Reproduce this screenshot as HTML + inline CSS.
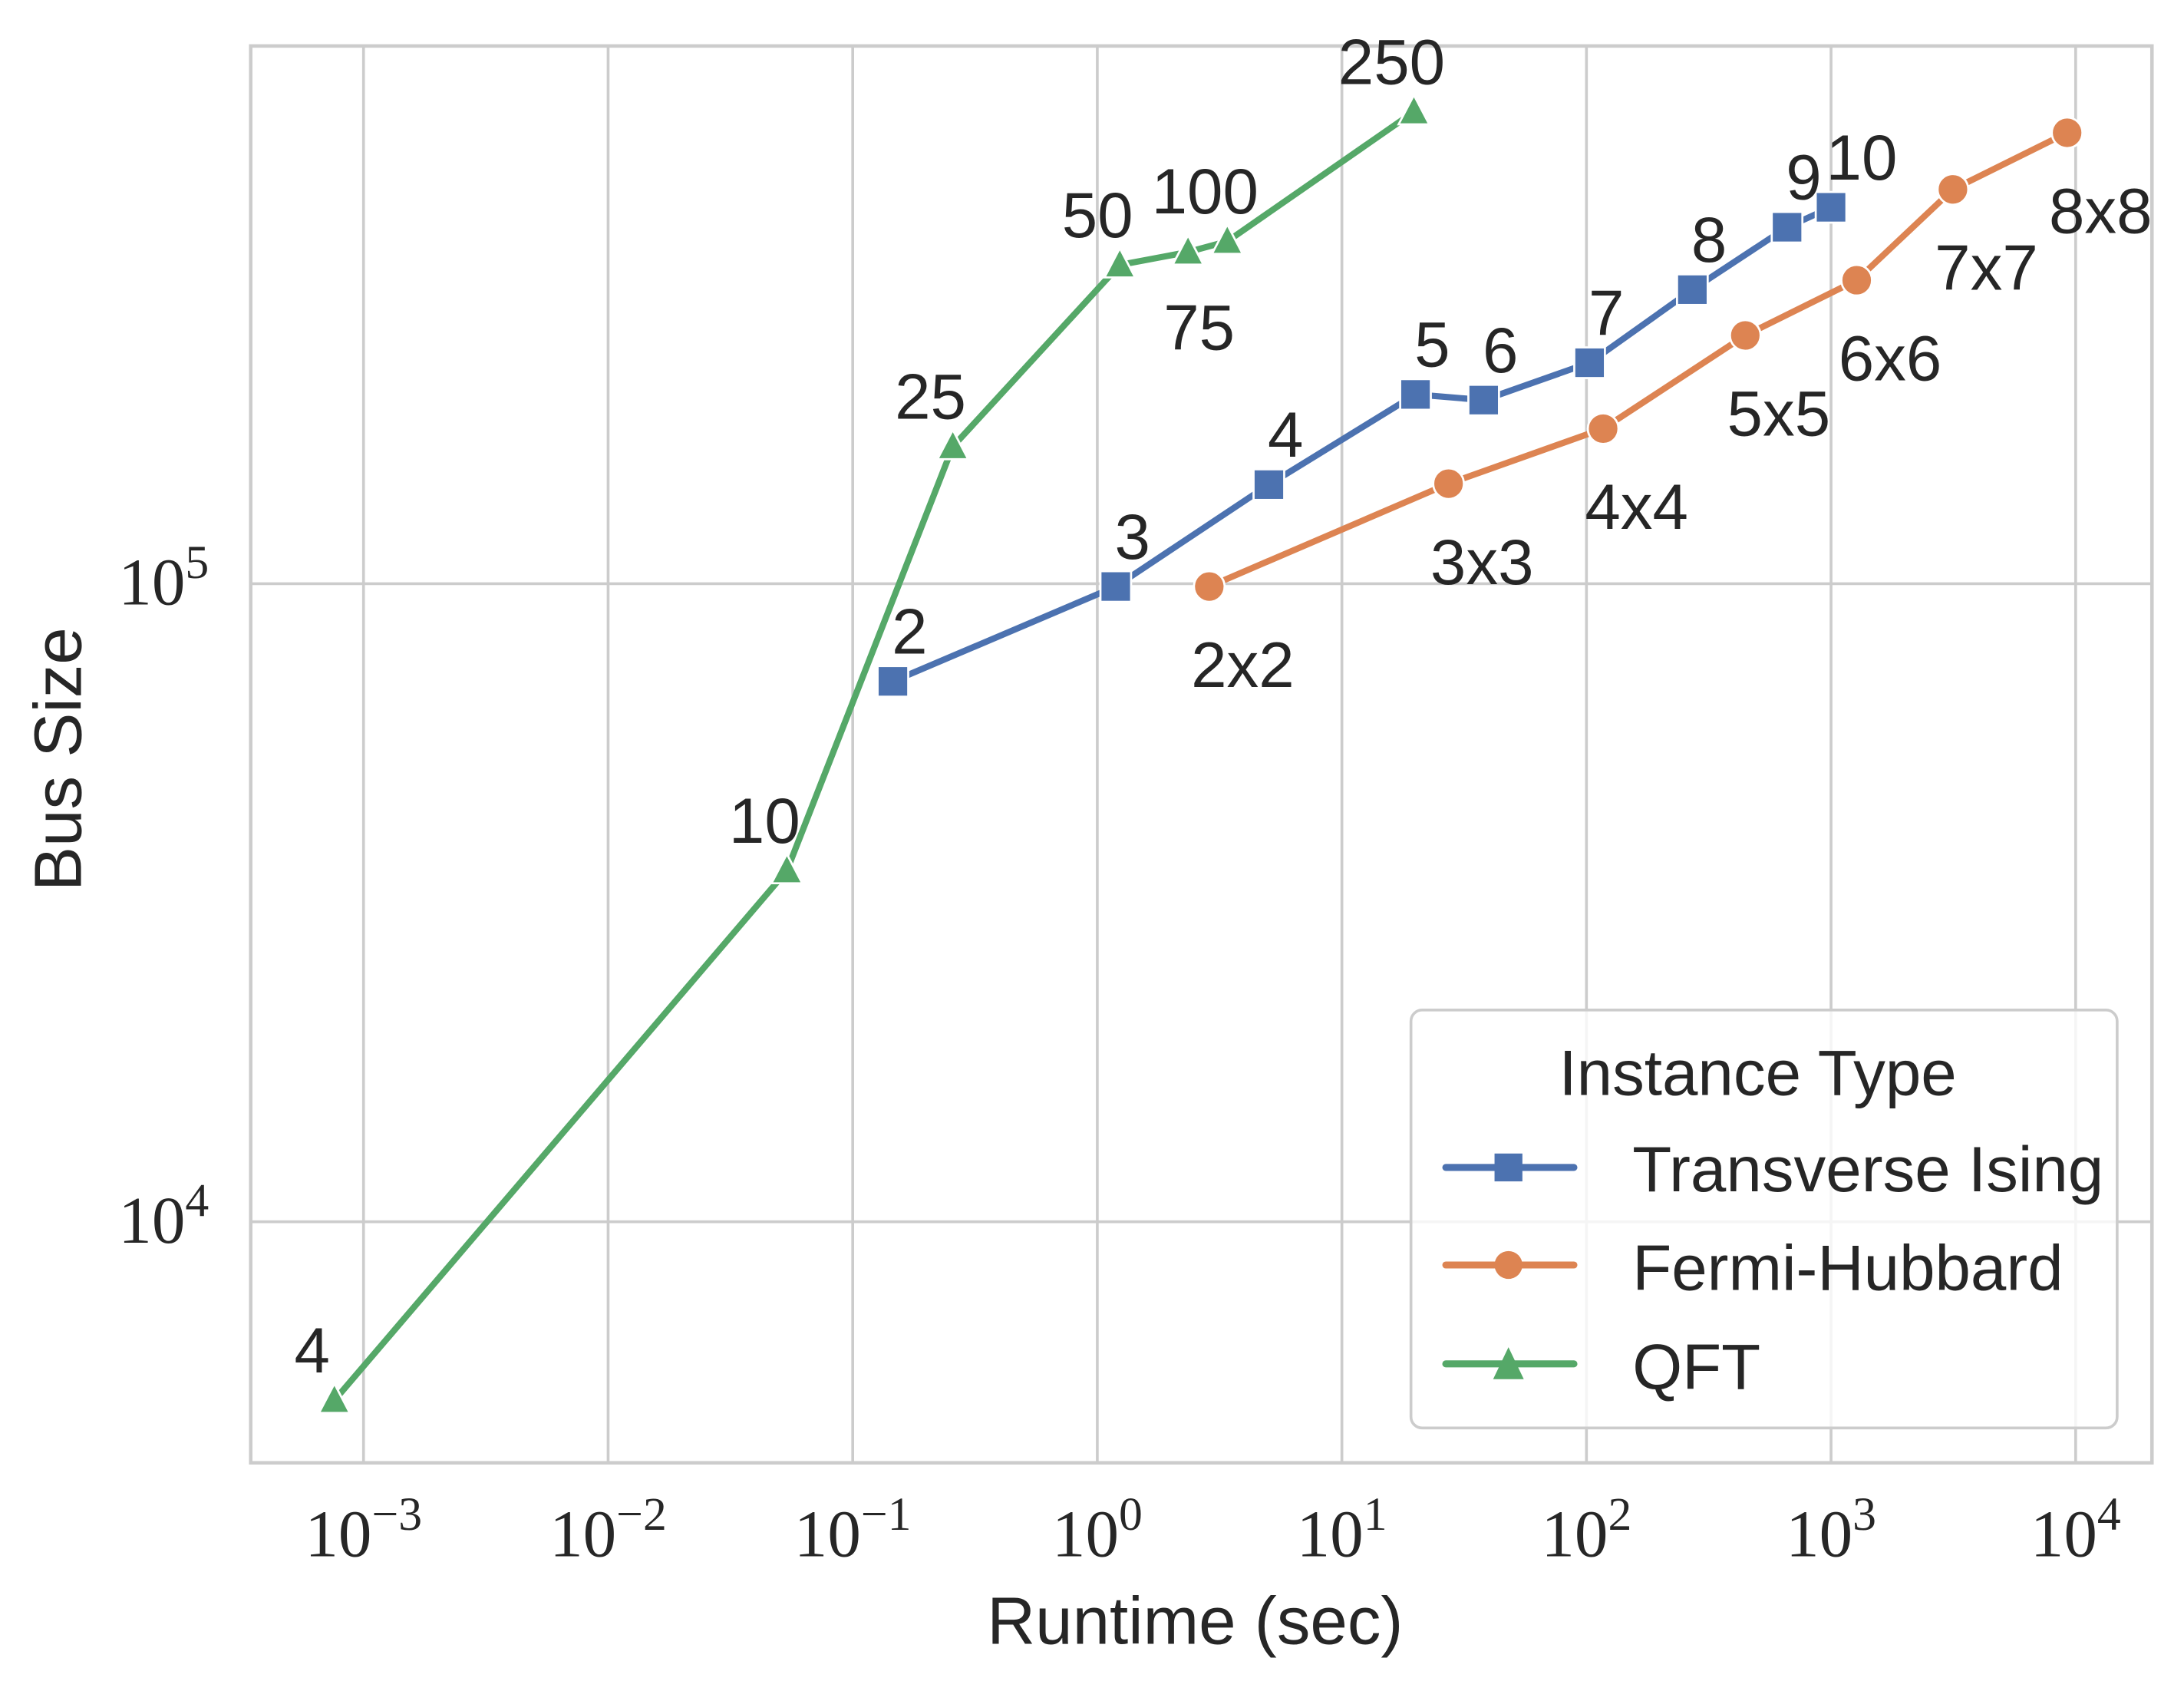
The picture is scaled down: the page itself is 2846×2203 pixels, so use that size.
<!DOCTYPE html>
<html><head><meta charset="utf-8"><style>
html,body{margin:0;padding:0;background:#fff;}
svg{display:block;}
text{font-family:"Liberation Sans Narrow","Liberation Sans",sans-serif;fill:#262626;}
</style></head><body>
<svg id="chart" width="2846" height="2203" viewBox="0 0 1568 1213.8" preserveAspectRatio="none" xmlns="http://www.w3.org/2000/svg">
<g id="grid"></g>
<g id="axes"></g>
<g id="series"></g>
<g id="labels"></g>
<text x="858" y="1180" font-size="48" text-anchor="middle">Runtime (sec)</text>
<text x="0" y="0" font-size="48" text-anchor="middle" transform="translate(58,545) rotate(-90)">Bus Size</text>
<g>
<rect x="1013" y="725" width="507" height="300" rx="8" fill="#fff" fill-opacity="0.8" stroke="#cccccc" stroke-width="2"/>
<text x="1262" y="786" font-size="46" text-anchor="middle">Instance Type</text>
<g>
<line x1="1038" y1="838" x2="1130" y2="838" stroke="#4c72b0" stroke-width="5" stroke-linecap="round"/>
<rect x="1073" y="828" width="20" height="20" fill="#4c72b0"/>
<text x="1172" y="855" font-size="46">Transverse Ising</text></g>
<g>
<line x1="1038" y1="908" x2="1130" y2="908" stroke="#dd8452" stroke-width="5" stroke-linecap="round"/>
<ellipse cx="1083" cy="908" rx="10" ry="10" fill="#dd8452"/>
<text x="1172" y="926" font-size="46">Fermi-Hubbard</text></g>
<g>
<line x1="1038" y1="979" x2="1130" y2="979" stroke="#55a868" stroke-width="5" stroke-linecap="round"/>
<polygon points="1083,967 1094,990 1072,990" fill="#55a868"/>
<text x="1172" y="997" font-size="46">QFT</text></g>
</g>
</svg>
<script>
const isingX=[0.146,1.19,5.03,20,38,103,271,661,1000];
const isingY=[70300,99000,143000,198000,194000,222000,289000,362000,389000];
const isingLabels=["2","3","4","5","6","7","8","9","10"];
const fermiX=[2.87,27.3,117,446,1273,3150,9230];
const fermiY=[99000,143500,175000,245000,299000,415000,509000];
const fermiLabels=["2x2","3x3","4x4","5x5","6x6","7x7","8x8"];
const qftX=[0.00076,0.0538,0.2566,1.236,2.35,3.40,19.7];
const qftY=[5250,35500,164000,316000,331000,344000,549000];
const qftLabels=["4","10","25","50","75","100","250"];
const xTicks=[-3,-2,-1,0,1,2,3,4];
const yTicks=[4,5];

const NS="http://www.w3.org/2000/svg";
const L=180,R=1545,T=33,B=1050;
function sx(v){return 261+(Math.log10(v)+3)*175.6;}
function sy(v){return 419-(Math.log10(v)-5)*458;}
function mk(tag,attrs,parent){const e=document.createElementNS(NS,tag);for(const k in attrs)e.setAttribute(k,attrs[k]);parent.appendChild(e);return e;}
const grid=document.getElementById('grid'),axes=document.getElementById('axes'),ser=document.getElementById('series'),lab=document.getElementById('labels');
function tickText(parent,x,y,anchor,p){
 const t=mk('text',{x:x,y:y,'text-anchor':anchor},parent);
 t.setAttribute('style','font-family:"Liberation Serif",serif;font-size:48px');
 const a=document.createElementNS(NS,'tspan');a.textContent='10';t.appendChild(a);
 const b=document.createElementNS(NS,'tspan');b.setAttribute('dy','-19');b.setAttribute('style','font-size:34px');b.textContent=(p<0?'\u2212'+(-p):String(p));t.appendChild(b);
 return t;
}
xTicks.forEach(p=>{const x=sx(Math.pow(10,p));
 const g=mk('line',{x1:x,x2:x,y1:T,y2:B,stroke:'#cccccc','stroke-width':2},grid);
 
 
 const t=tickText(axes,x,1117,'middle',p);
 
 });
yTicks.forEach(p=>{const y=sy(Math.pow(10,p));
 const g=mk('line',{x1:L,x2:R,y1:y,y2:y,stroke:'#cccccc','stroke-width':2},grid);
 
 
 const t=tickText(axes,150,y+15,'end',p);
 
 });
const sp=mk('rect',{x:L,y:T,width:R-L,height:B-T,fill:'none',stroke:'#cccccc','stroke-width':2.5},axes);



function draw(xs,ys,labels,color,shape,name,dx,dy){
 const pts=xs.map((x,i)=>[sx(x),sy(ys[i])]);
 const pl=mk('polyline',{points:pts.map(p=>p.join(',')).join(' '),fill:'none',stroke:color,'stroke-width':4.5,'stroke-linejoin':'round','stroke-linecap':'round'},ser);
 
 
 pts.forEach((p,i)=>{let m;
  if(shape==='sq')m=mk('rect',{x:p[0]-11,y:p[1]-11,width:22,height:22,fill:color,stroke:'#fff','stroke-width':1.5},ser);
  else if(shape==='ci')m=mk('circle',{cx:p[0],cy:p[1],r:11,fill:color,stroke:'#fff','stroke-width':1.5},ser);
  else m=mk('polygon',{points:`${p[0]},${p[1]-12} ${p[0]+11},${p[1]+9} ${p[0]-11},${p[1]+9}`,fill:color,stroke:'#fff','stroke-width':1.5},ser);
  
  
  let ox=dx,oy=dy;
  if(name==='qft'&&labels[i]==='75'){ox=8;oy=70;}
  if(name==='ising'&&labels[i]==='10'){ox=22;}
  const t=mk('text',{x:p[0]+ox,y:p[1]+oy,'text-anchor':'middle','font-size':46},lab);
  t.textContent=labels[i];
  
  
 });
}
draw(isingX,isingY,isingLabels,'#4c72b0','sq','ising',12,-20);
draw(fermiX,fermiY,fermiLabels,'#dd8452','ci','fermi',24,72);
draw(qftX,qftY,qftLabels,'#55a868','tr','qft',-16,-20);
</script>
</body></html>
